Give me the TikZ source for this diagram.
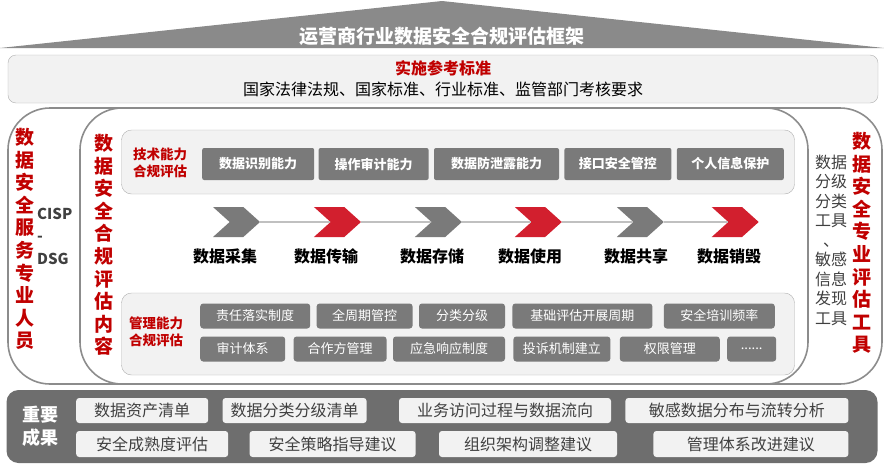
\documentclass[tikz,border=0pt]{standalone}
\usepackage{fontspec}
\setmainfont{Noto Sans CJK SC}
\usepackage{xcolor}
\usepackage{tikz}
\usetikzlibrary{positioning,shapes.symbols}
\definecolor{frameline}{HTML}{8C8C8C}
\definecolor{boxgray}{HTML}{7A7A7A}
\definecolor{panel}{HTML}{F2F2F2}
\definecolor{deepred}{HTML}{C00000}
\definecolor{chevred}{HTML}{D21F2E}
\definecolor{darkpanel}{HTML}{6E6E6E}
\definecolor{roofgray}{HTML}{8A8A8A}
\definecolor{textgray}{HTML}{404040}
\newcommand{\fsz}[2]{\fontsize{#1}{#2}\selectfont}

\begin{document}
\begin{tikzpicture}[x=1pt, y=-1pt, node distance=5pt,
    panelbox/.style={draw=frameline!70, fill=panel, rounded corners=8pt, inner sep=0pt},
    frame/.style={draw=frameline, line width=1.6pt, rounded corners=42pt, inner sep=0pt},
    gbox/.style={fill=boxgray, rounded corners=2pt, text=white, font=\fsz{13}{15}\bfseries, minimum height=32pt, inner sep=0pt},
    mbox/.style={fill=boxgray, rounded corners=3pt, text=white, font=\fsz{13}{15}, minimum height=25pt, inner sep=0pt},
    rbox/.style={fill=panel, rounded corners=3pt, text=textgray, font=\fsz{16}{18}, minimum height=25pt, inner sep=0pt},
    redv/.style={text=deepred, font=\fsz{19}{22.6}\bfseries, align=center, inner sep=0pt},
    redlab/.style={text=deepred, font=\fsz{13.5}{17}\bfseries, align=left, inner sep=0pt},
    stage/.style={signal, signal from=west, signal to=east, signal pointer angle=84, minimum width=47pt, minimum height=30pt, inner sep=0pt},
    stagelab/.style={font=\fsz{16}{18}\bfseries},
    flowline/.style={draw=frameline!55, line width=2pt}]
  \useasboundingbox (0,0) rectangle (884,466);
  % roof and title
  \fill[roofgray] (0,48) -- (442,1) -- (884,48) -- cycle;
  \node[text=white, font=\fsz{19}{21}\bfseries] (title) at (442,36) {运营商行业数据安全合规评估框架};
  \node[panelbox, minimum width=870pt, minimum height=48pt, align=center, font=\fsz{16}{21}] (std) at (443,79)
    {{\color{deepred}\bfseries 实施参考标准}\\国家法律法规、国家标准、行业标准、监管部门考核要求};
  % frames
  \node[frame, minimum width=874pt, minimum height=276pt] (outer) at (445,246) {};
  \node[frame, minimum width=728pt, minimum height=276pt] (inner) at (444,246) {};
  \node[redv] (staff) at (25,239) {数\\据\\安\\全\\服\\务\\专\\业\\人\\员};
  \node[anchor=west, align=left, inner sep=0pt, text=textgray, font=\fsz{15}{22.5}\bfseries] (cisp) at (37,236) {CISP\\-\\DSG};
  \node[redv] (content) at (104,245) {数\\据\\安\\全\\合\\规\\评\\估\\内\\容};
  \node[redv] (tools) at (862,243) {数\\据\\安\\全\\专\\业\\评\\估\\工\\具};
  \node[align=center, inner sep=0pt, text=textgray, font=\fsz{16}{19.5}] (toolnote) at (831,240)
    {数据\\分级\\分类\\工具\\、\\敏感\\信息\\发现\\工具};
  % technical capability
  \node[panelbox, rounded corners=10pt, minimum width=673pt, minimum height=64pt] (tech) at (458,162) {};
  \node[redlab] (techlab) at (160,163) {技术能力\\合规评估};
  \node[gbox, minimum width=112pt, anchor=west] (t1) at (202,164) {数据识别能力};
  \node[gbox, minimum width=110pt, right=4pt of t1] (t2) {操作审计能力};
  \node[gbox, minimum width=125pt, right=of t2] (t3) {数据防泄露能力};
  \node[gbox, minimum width=107pt, right=of t3] (t4) {接口安全管控};
  \node[gbox, minimum width=107pt, right=of t4] (t5) {个人信息保护};
  % life cycle
  \node[stage, fill=boxgray] (s1) at (236.5,222) {};
  \node[stage, fill=chevred, right=70pt of s1] (s2) {};
  \node[stage, fill=boxgray, right=70pt of s2] (s3) {};
  \node[stage, fill=chevred, right=69pt of s3] (s4) {};
  \node[stage, fill=boxgray, right=71pt of s4] (s5) {};
  \node[stage, fill=chevred, right=64pt of s5] (s6) {};
  \draw[flowline] (s1) -- (s2);
  \draw[flowline] (s2) -- (s3);
  \draw[flowline] (s3) -- (s4);
  \draw[flowline] (s4) -- (s5);
  \draw[flowline] (s5) -- (s6);
  \node[stagelab] (l1) at (225,256) {数据采集};
  \node[stagelab] (l2) at (326,256) {数据传输};
  \node[stagelab] (l3) at (432,256) {数据存储};
  \node[stagelab] (l4) at (530,256) {数据使用};
  \node[stagelab] (l5) at (636,256) {数据共享};
  \node[stagelab] (l6) at (729,256) {数据销毁};
  % management capability
  \node[panelbox, rounded corners=10pt, minimum width=673pt, minimum height=82pt] (mgmt) at (458,334) {};
  \node[redlab] (mgmtlab) at (156,332) {管理能力\\合规评估};
  \node[mbox, minimum width=110pt, anchor=west] (m1) at (200,316) {责任落实制度};
  \node[mbox, minimum width=96pt, right=6pt of m1] (m2) {全周期管控};
  \node[mbox, minimum width=86pt, right=6pt of m2] (m3) {分类分级};
  \node[mbox, minimum width=140pt, right=7pt of m3] (m4) {基础评估开展周期};
  \node[mbox, minimum width=111pt, right=11pt of m4] (m5) {安全培训频率};
  \node[mbox, minimum width=85pt, anchor=west] (n1) at (200,349) {审计体系};
  \node[mbox, minimum width=93pt, right=8pt of n1] (n2) {合作方管理};
  \node[mbox, minimum width=112pt, right=6pt of n2] (n3) {应急响应制度};
  \node[mbox, minimum width=97pt, right=8pt of n3] (n4) {投诉机制建立};
  \node[mbox, minimum width=100pt, right=9pt of n4] (n5) {权限管理};
  \node[mbox, minimum width=49pt, right=7pt of n5] (n6) {......};
  % results
  \node[fill=darkpanel, rounded corners=12pt, minimum width=871pt, minimum height=73pt, inner sep=0pt] (result) at (442,426.5) {};
  \node[text=white, align=center, inner sep=0pt, font=\fsz{18}{23}\bfseries] (reslab) at (41,426) {重要\\成果};
  \node[rbox, minimum width=132pt, anchor=west] (r1) at (76,410.5) {数据资产清单};
  \node[rbox, minimum width=144pt, right=14pt of r1] (r2) {数据分类分级清单};
  \node[rbox, minimum width=212pt, right=32pt of r2] (r3) {业务访问过程与数据流向};
  \node[rbox, minimum width=223pt, right=14pt of r3] (r4) {敏感数据分布与流转分析};
  \node[rbox, minimum width=152pt, minimum height=26pt, anchor=west] (q1) at (76,444) {安全成熟度评估};
  \node[rbox, minimum width=166pt, minimum height=26pt, right=21pt of q1] (q2) {安全策略指导建议};
  \node[rbox, minimum width=178pt, minimum height=26pt, right=23pt of q2] (q3) {组织架构调整建议};
  \node[rbox, minimum width=195pt, minimum height=26pt, right=36pt of q3] (q4) {管理体系改进建议};
\end{tikzpicture}
\end{document}
